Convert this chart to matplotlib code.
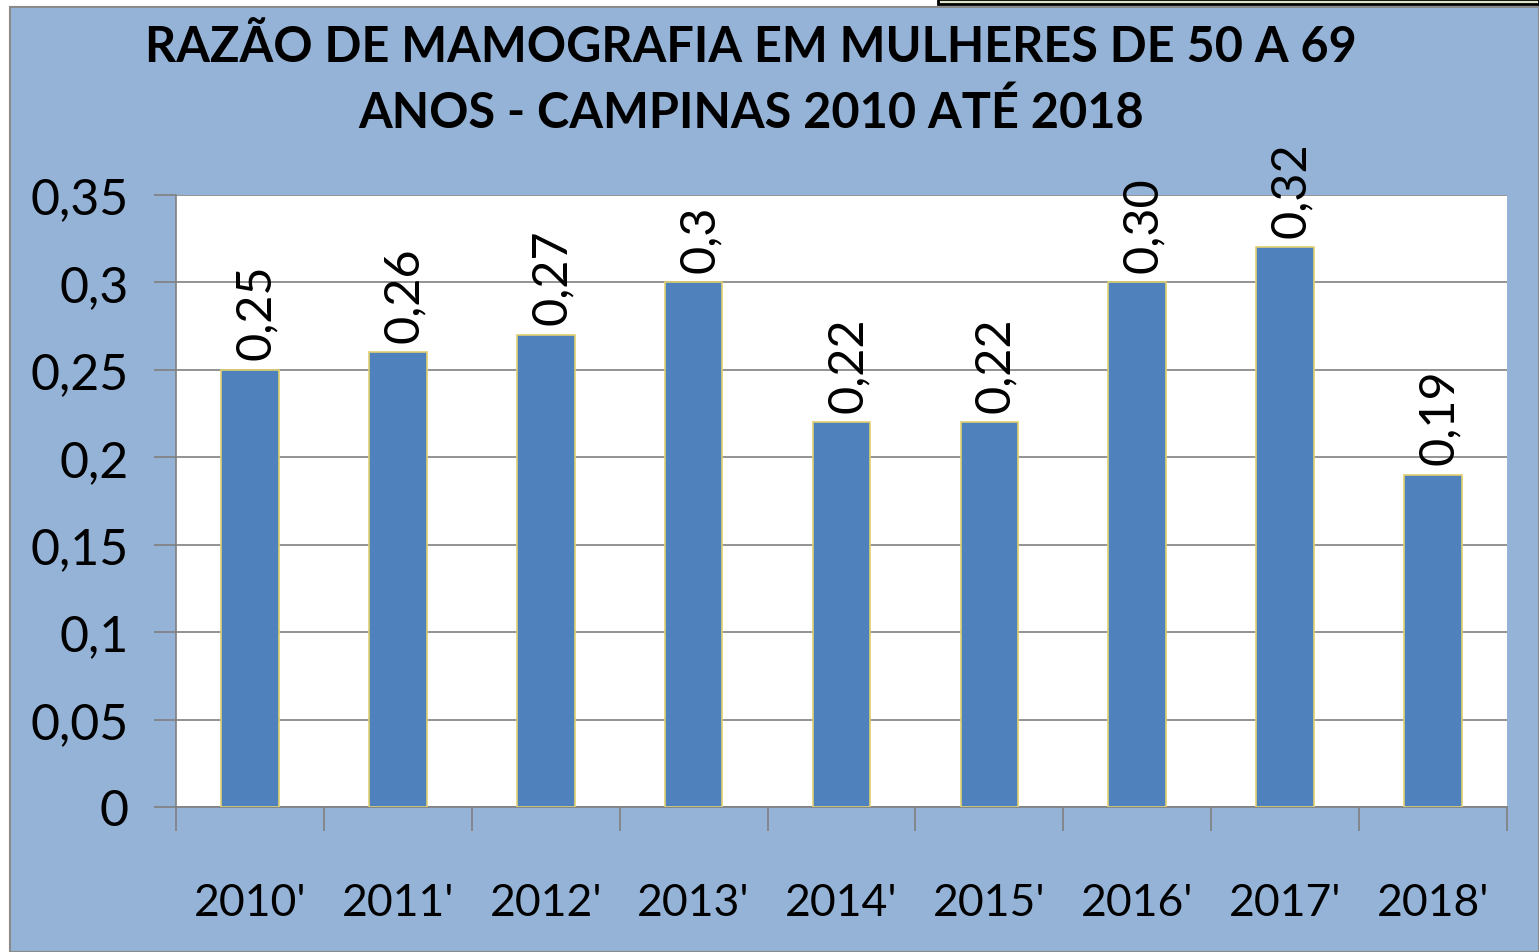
import matplotlib.pyplot as plt
from matplotlib.patches import Rectangle

years = ["2010'", "2011'", "2012'", "2013'", "2014'", "2015'", "2016'", "2017'", "2018'"]
ratios = [0.25, 0.26, 0.27, 0.30, 0.22, 0.22, 0.30, 0.32, 0.19]
labels = ["0,25", "0,26", "0,27", "0,3", "0,22", "0,22", "0,30", "0,32", "0,19"]
yticks = [0, 0.05, 0.1, 0.15, 0.2, 0.25, 0.3, 0.35]
ytick_labels = ["0", "0,05", "0,1", "0,15", "0,2", "0,25", "0,3", "0,35"]

plt.rcParams['font.family'] = ['Lato', 'DejaVu Sans']

W, H = 1539, 953
fig = plt.figure(figsize=(W / 100, H / 100), dpi=100)
fig.patch.set_facecolor('white')

# blue chart background with grey frame
fig.patches.append(Rectangle((10 / W, 0), 1 - 10 / W, 1 - 8 / H, transform=fig.transFigure,
                             facecolor='#95B3D7', edgecolor='#8a8a8a', lw=1.5, zorder=-2))
# small box at top right
fig.patches.append(Rectangle((938 / W, 1 - 5 / H), 1 - 938 / W, 5 / H, transform=fig.transFigure,
                             facecolor='#dde6c8', edgecolor='black', lw=2, zorder=-1))

ax = fig.add_axes([176 / W, 1 - 808 / H, (1507 - 176) / W, (808 - 196) / H])
ax.set_zorder(5)
ax.set_facecolor('white')

x = range(len(years))
ax.bar(x, ratios, width=0.39, color='#4F81BD', edgecolor='#E0D070', linewidth=1.2, zorder=3)

for i, (v, lab) in enumerate(zip(ratios, labels)):
    ax.text(i + 0.04, v + 0.006, lab, rotation=90, ha='center', va='bottom',
            fontsize=35, color='black', zorder=4)

ax.set_xlim(-0.5, len(years) - 0.5)
ax.set_ylim(0, 0.35)
ax.set_yticks(yticks)
ax.set_yticklabels(ytick_labels, fontsize=36)
ax.set_xticks([i + 0.5 for i in range(-1, len(years))], minor=False)
ax.set_xticklabels([])
ax.set_xticks(list(x), minor=True)
ax.set_xticklabels(years, minor=True, fontsize=32)
ax.tick_params(axis='x', which='minor', length=0, pad=54)
ax.tick_params(axis='x', which='major', length=17, color='#808080', width=1.2)
ax.tick_params(axis='y', length=16, color='#808080', width=1.2, pad=18)

ax.grid(axis='y', color='#808080', lw=1.2, zorder=1)
ax.set_axisbelow(True)
for s in ['top', 'right']:
    ax.spines[s].set_visible(False)
for s in ['left', 'bottom']:
    ax.spines[s].set_color('#808080')
    ax.spines[s].set_linewidth(1.2)

fig.text(751 / W, 1 - 48 / H, "RAZÃO DE MAMOGRAFIA EM MULHERES DE 50 A 69",
         ha='center', va='center', fontsize=35, fontweight='bold')
fig.text(751 / W, 1 - 113 / H, "ANOS - CAMPINAS 2010 ATÉ 2018",
         ha='center', va='center', fontsize=35, fontweight='bold')

fig.savefig('out.png', dpi=100)
